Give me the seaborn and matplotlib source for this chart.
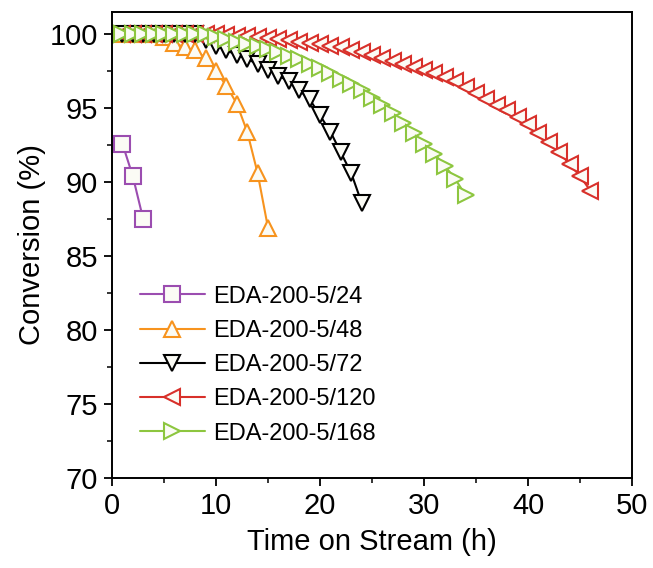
import numpy as np
import pandas as pd
import matplotlib
matplotlib.use("Agg")
import matplotlib.pyplot as plt
import seaborn as sns
from matplotlib.ticker import MultipleLocator

# ---- data ----
labels = ["EDA-200-5/24", "EDA-200-5/48", "EDA-200-5/72", "EDA-200-5/120", "EDA-200-5/168"]

x_24 = [1, 2, 3]
y_24 = [92.6, 90.4, 87.5]

x_48 = list(range(1, 16))
y_48 = [100, 100, 100, 100, 99.8, 99.4, 99.1, 98.9, 98.4, 97.5, 96.5, 95.3, 93.4, 90.6, 86.9]

x_72 = list(range(1, 25))
y_72 = [100, 100, 100, 100, 100, 100, 100, 100,
        99.6, 99.2, 98.9, 98.6, 98.3, 98.0, 97.6, 97.2, 96.8, 96.2, 95.6, 94.5, 93.4, 92.0, 90.6, 88.6]

x_120 = list(range(1, 47))
y_120 = [100, 100, 100, 100, 100, 100, 100, 100, 100, 100,
         99.95, 99.9, 99.85, 99.8, 99.75, 99.7, 99.6, 99.5, 99.4, 99.3,
         99.2, 99.1, 98.95, 98.8, 98.6, 98.4, 98.2, 98.0, 97.8, 97.6,
         97.35, 97.1, 96.8, 96.4, 96.0, 95.6, 95.2, 94.9, 94.4, 93.9,
         93.3, 92.7, 92.0, 91.2, 90.4, 89.4]

x_168 = list(range(1, 35))
y_168 = [100, 100, 100, 100, 100, 100, 100, 100, 100,
         99.8, 99.65, 99.5, 99.35, 99.2, 99.0, 98.8, 98.55, 98.3, 98.0, 97.7,
         97.35, 97.0, 96.6, 96.2, 95.7, 95.2, 94.7, 94.0, 93.3, 92.6,
         91.9, 91.1, 90.2, 89.1]

xs = [x_24, x_48, x_72, x_120, x_168]
ys = [y_24, y_48, y_72, y_120, y_168]
colors = ["#9B4DB0", "#F7931E", "#000000", "#D8302A", "#8DC63F"]
markers = ["s", "^", "v", "<", ">"]

# ---- plot ----
sns.set_style("ticks")
plt.rcParams["font.family"] = ["Liberation Sans", "DejaVu Sans"]
plt.rcParams["text.color"] = "black"
plt.rcParams["axes.labelcolor"] = "black"
plt.rcParams["xtick.color"] = "black"
plt.rcParams["ytick.color"] = "black"

fig = plt.figure(figsize=(6.53, 5.68), dpi=100)
ax = fig.add_axes([0.1715, 0.1585, 0.7965, 0.8205])

for x, y, c, m, lab in zip(xs, ys, colors, markers, labels):
    df = pd.DataFrame({"t": x, "conv": y})
    sns.lineplot(data=df, x="t", y="conv", ax=ax, color=c, marker=m,
                 markersize=12, markerfacecolor="#FBFBF5", markeredgecolor=c,
                 markeredgewidth=1.5, linewidth=1.5, label=lab)

ax.set_xlim(0, 50)
ax.set_ylim(70, 101.5)
ax.xaxis.set_major_locator(MultipleLocator(10))
ax.xaxis.set_minor_locator(MultipleLocator(5))
ax.yaxis.set_major_locator(MultipleLocator(5))
ax.yaxis.set_minor_locator(MultipleLocator(2.5))
ax.tick_params(which="major", direction="out", length=6, width=1.3, labelsize=21,
               colors="black", pad=4)
ax.tick_params(which="minor", direction="out", length=3.5, width=1.1, colors="black")
for s in ax.spines.values():
    s.set_visible(True)
    s.set_linewidth(1.4)
    s.set_color("black")

ax.set_xlabel("Time on Stream (h)", fontsize=21, labelpad=6)
ax.set_ylabel("Conversion (%)", fontsize=21, labelpad=3)

leg = ax.legend(loc="upper left", bbox_to_anchor=(0.035, 0.433), frameon=False,
                fontsize=17, handlelength=2.75, handletextpad=0.35, labelspacing=0.52,
                numpoints=1, borderaxespad=0)
for t in leg.get_texts():
    t.set_color("black")

fig.savefig("out.png", dpi=100)
